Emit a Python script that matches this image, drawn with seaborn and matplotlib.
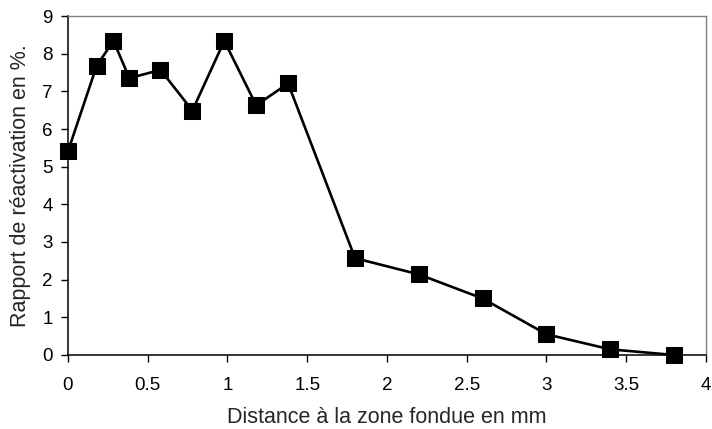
import matplotlib
matplotlib.use("Agg")
import matplotlib.pyplot as plt
import seaborn as sns
import pandas as pd

distance = [0.0, 0.18, 0.285, 0.385, 0.58, 0.78, 0.98, 1.18, 1.38, 1.80, 2.20, 2.60, 3.00, 3.40, 3.80]
rapport = [5.41, 7.68, 8.34, 7.35, 7.57, 6.49, 8.34, 6.63, 7.21, 2.57, 2.14, 1.50, 0.55, 0.15, 0.0]
x_ticks = [0, 0.5, 1, 1.5, 2, 2.5, 3, 3.5, 4]
x_tick_labels = ["0", "0.5", "1", "1.5", "2", "2.5", "3", "3.5", "4"]
y_ticks = list(range(0, 10))

sns.set_theme(style="white")
plt.rcParams['font.family'] = ['Liberation Sans', 'DejaVu Sans']

df = pd.DataFrame({"d": distance, "r": rapport})

fig = plt.figure(figsize=(7.12, 4.29), dpi=100)
ax = fig.add_axes([0.0955, 0.1725, 0.896, 0.7902])
sns.lineplot(data=df, x="d", y="r", ax=ax, color="black", linewidth=1.9,
             marker="s", markersize=12, markeredgecolor="black",
             markerfacecolor="black", clip_on=False, zorder=5)

ax.set_xlim(0, 4)
ax.set_ylim(0, 9)
ax.set_xticks(x_ticks)
ax.set_xticklabels(x_tick_labels)
ax.set_yticks(y_ticks)
ax.tick_params(axis="both", which="both", direction="out", length=5, width=1,
               colors="black", labelsize=13.5, bottom=True, left=True)
ax.tick_params(axis="x", pad=10.5)
ax.tick_params(axis="y", pad=6)

for s in ["left", "bottom"]:
    ax.spines[s].set_color("black")
    ax.spines[s].set_linewidth(1.1)
for s in ["top", "right"]:
    ax.spines[s].set_color("#808080")
    ax.spines[s].set_linewidth(1.0)

ax.set_xlabel("Distance à la zone fondue en mm", fontsize=15.5, labelpad=10)
ax.set_ylabel("Rapport de réactivation en %.", fontsize=15.5, labelpad=8)
ax.grid(False)

fig.savefig("out.png", dpi=100)
